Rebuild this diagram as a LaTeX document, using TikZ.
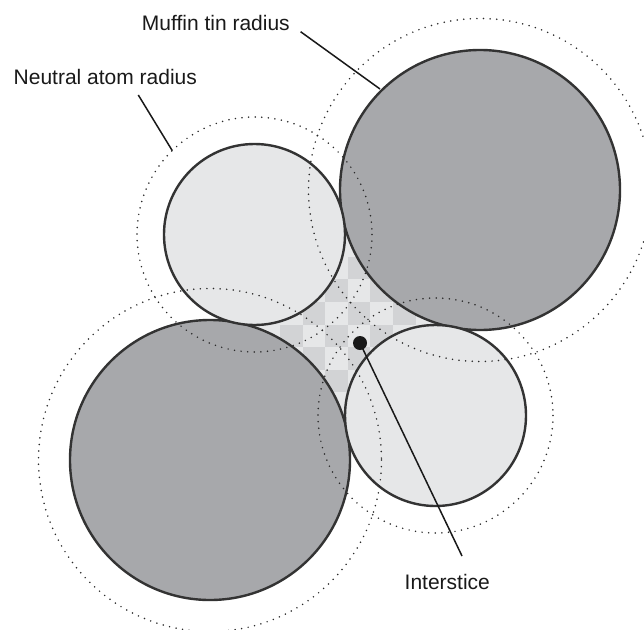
\documentclass[tikz,border=0pt]{standalone}
\usepackage{fontspec}
\setmainfont{Liberation Sans}
\definecolor{darkc}{HTML}{A7A8AB}
\definecolor{lightc}{HTML}{E6E7E8}
\definecolor{checkd}{HTML}{D2D3D5}
\definecolor{outl}{HTML}{333333}
\definecolor{dotcol}{HTML}{2A2A2A}
\begin{document}
\begin{tikzpicture}[x=1pt,y=-1pt,
  ring/.style={draw=outl, line width=2.4pt},
  dotc/.style={draw=dotcol, line width=1.7pt, line cap=round, dash pattern=on 0pt off 6.6pt},
  lbl/.style={font=\fontsize{21}{25}\selectfont, text=black!90, anchor=base west, inner sep=0pt},
  lead/.style={line width=1.5pt, draw=black!90}]
\useasboundingbox (0,0) rectangle (644,629);
\fill[white] (0,0) rectangle (644,629);
% centres
\coordinate (ctl) at (254.5,234.5);
\coordinate (ctr) at (480,190);
\coordinate (cbl) at (210,460);
\coordinate (cbr) at (435.5,415.5);
% interstitial checker
\begin{scope}
\clip (343.3,217) -- (453,326.7) -- (346.7,433) -- (237,323.3) -- cycle;
\fill[lightc] (230,210) rectangle (460,440);
\foreach \r/\c in {0/3,1/2,1/4,2/1,2/3,2/5,3/0,3/2,3/4,4/1,4/3,5/2}
  \fill[checkd] ({280+22.6*\c},{256.7+22.6*\r}) rectangle ++(22.6,22.6);
\end{scope}
% muffin tin spheres
\filldraw[fill=darkc, ring] (ctr) circle (140);
\filldraw[fill=darkc, ring] (cbl) circle (140);
\filldraw[fill=lightc, ring] (ctl) circle (90.5);
\filldraw[fill=lightc, ring] (cbr) circle (90.5);
% neutral atom radii
\draw[dotc] (ctr) circle (171.5);
\draw[dotc] (cbl) circle (171.5);
\draw[dotc] (ctl) circle (117.5);
\draw[dotc] (cbr) circle (117.5);
% interstice point
\node[circle, fill=black!90, minimum size=14pt, inner sep=0pt] (dot) at (360,343) {};
% labels
\node[lbl] (muffin) at (141.7,30) {Muffin tin radius};
\node[lbl] (neutral) at (13.5,84) {Neutral atom radius};
\node[lbl] (inter) at (404.5,589) {Interstice};
% leader lines
\coordinate (m0) at (300.6,31.7);
\coordinate (m1) at (380,89);
\coordinate (n0) at (138.3,95);
\coordinate (n1) at (172.3,150.7);
\coordinate (i1) at (462,556);
\draw[lead] (m0) -- (m1);
\draw[lead] (n0) -- (n1);
\draw[lead] (dot.center) -- (i1);
\end{tikzpicture}
\end{document}
